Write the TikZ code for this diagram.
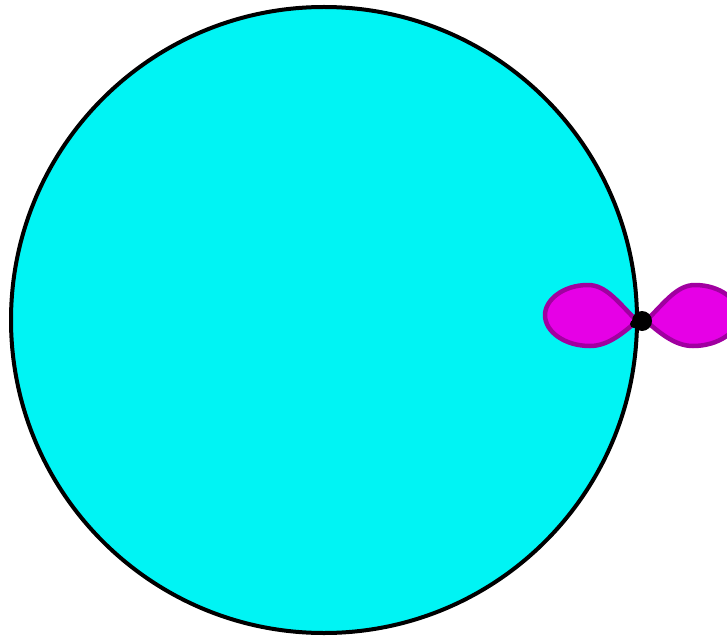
\documentclass[tikz,border=0pt]{standalone}
\usepackage{xcolor}
\definecolor{ballcyan}{RGB}{0,244,244}
\definecolor{lobemagenta}{RGB}{230,0,230}
\definecolor{lobepurple}{RGB}{160,0,160}
\usetikzlibrary{calc}

\begin{document}
\begin{tikzpicture}[x=1pt,y=-1pt,
  ball/.style={draw=black,fill=ballcyan,line width=4pt},
  lobe/.style={draw=lobepurple,fill=lobemagenta,line width=4.5pt,line join=round},
  atom/.style={fill=black}]
  \useasboundingbox (0,0) rectangle (727,636);
  % Sphere
  \draw[ball] (324,320) circle (313);
  % Orbital lobes
  \coordinate (tipL) at (637,321);
  \coordinate (tipR) at (646,321);
  \draw[lobe] (tipL) .. controls (618,302) and (606,285) .. (588,285)
    .. controls (563,285) and (545,300) .. (545,315)
    .. controls (545,332) and (565,346) .. (590,346)
    .. controls (606,346) and (620,336) .. (tipL) -- cycle;
  \draw[lobe] (tipR) .. controls (665,302) and (677,285) .. (695,285)
    .. controls (720,285) and (739,300) .. (739,315)
    .. controls (739,332) and (718,346) .. (693,346)
    .. controls (677,346) and (663,336) .. (tipR) -- cycle;
  % Nucleus
  \fill[atom] (642,321) circle (10);
  \fill[atom] (634,324) circle (4);
\end{tikzpicture}
\end{document}
